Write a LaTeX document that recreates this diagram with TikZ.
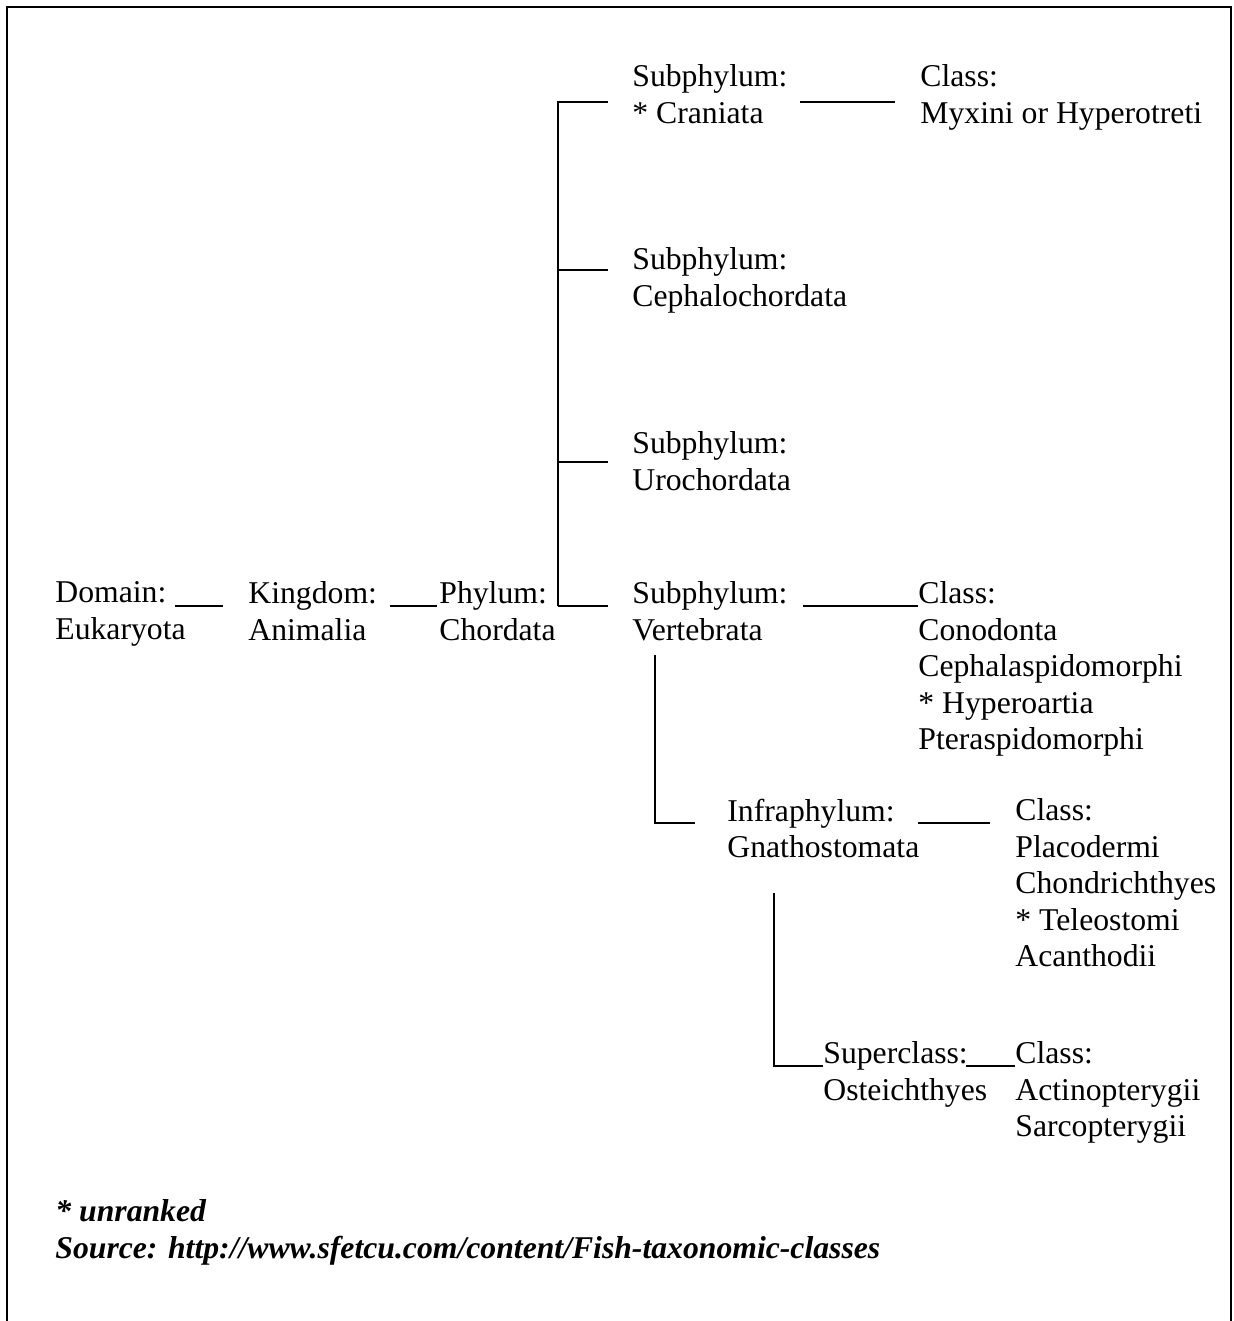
\documentclass[tikz,border=0pt]{standalone}
\usepackage{fontspec}
\setmainfont{Liberation Serif}
\usepackage{tikz}
\usetikzlibrary{calc}
\newcommand{\taxfont}{\fontsize{15.85}{18.25}\selectfont}

\begin{document}
\begin{tikzpicture}[
    x=0.5pt, y=-0.5pt,
    taxon/.style={anchor=north west, inner sep=0pt, align=left, font=\taxfont, execute at begin node=\strut},
    note/.style={taxon, font=\taxfont\bfseries\itshape},
    link/.style={line width=0.9pt, draw=black},
    frame/.style={line width=1.2pt, draw=black}
]
\useasboundingbox (0,0) rectangle (1233,1321);
\draw[frame] (7,1330) -- (7,7) -- (1231,7) -- (1231,1330);

\node[taxon] (dom) at (55,581.5) {Domain:\\Eukaryota};
\node[taxon] (king) at (248,581.5) {Kingdom:\\Animalia};
\node[taxon] (phyl) at (439,581.5) {Phylum:\\Chordata};
\node[taxon] (cran) at (632,64.5) {Subphylum:\\* Craniata};
\node[taxon] (ceph) at (632,247.5) {Subphylum:\\Cephalochordata};
\node[taxon] (uro) at (632,431.5) {Subphylum:\\Urochordata};
\node[taxon] (vert) at (632,581.5) {Subphylum:\\Vertebrata};
\node[taxon] (myx) at (920,64.5) {Class:\\Myxini or Hyperotreti};
\node[taxon] (cono) at (918,581.5) {Class:\\Conodonta\\Cephalaspidomorphi\\* Hyperoartia\\Pteraspidomorphi};
\node[taxon] (gnath) at (727,798.5) {Infraphylum:\\Gnathostomata};
\node[taxon] (plac) at (1015,798.5) {Class:\\Placodermi\\Chondrichthyes\\* Teleostomi\\Acanthodii};
\node[taxon] (oste) at (823,1041.5) {Superclass:\\Osteichthyes};
\node[taxon] (acti) at (1015,1041.5) {Class:\\Actinopterygii\\Sarcopterygii};
\node[note] (src) at (55,1199.5) {* unranked\\Source: http://www.sfetcu.com/content/Fish-taxonomic-classes};

% domain to phylum
\draw[link] ($(dom.north west)+(120,24.5)$) -- ($(king.north west)+(-25,24.5)$);
\draw[link] ($(king.north west)+(142,24.5)$) -- ($(phyl.north west)+(-2,24.5)$);

% phylum bracket
\coordinate (fork) at ($(phyl.north west)+(119,24.5)$);
\draw[link] (fork) -- ($(vert.north west)+(-24,24.5)$);
\draw[link] ($(cran.north west)+(-24,37.5)$) -| (fork);
\draw[link] ($(ceph.north west)+(-24,22.5)$) coordinate (c2) -- (c2 -| fork);
\draw[link] ($(uro.north west)+(-24,30.5)$) coordinate (c3) -- (c3 -| fork);

% subphyla to classes
\draw[link] ($(cran.north west)+(168,37.5)$) -- ($(myx.north west)+(-25,37.5)$);
\draw[link] ($(vert.north west)+(171,24.5)$) -- ($(cono.north west)+(0,24.5)$);

% vertebrata branch
\draw[link] ($(vert.north west)+(23,73.5)$) |- ($(gnath.north west)+(-32,24.5)$);
\draw[link] ($(gnath.north west)+(191,24.5)$) -- ($(plac.north west)+(-25,24.5)$);
\draw[link] ($(gnath.north west)+(47,94.5)$) |- ($(oste.north west)+(0,24.5)$);
\draw[link] ($(oste.north west)+(143,24.5)$) -- ($(acti.north west)+(0,24.5)$);
\end{tikzpicture}
\end{document}
